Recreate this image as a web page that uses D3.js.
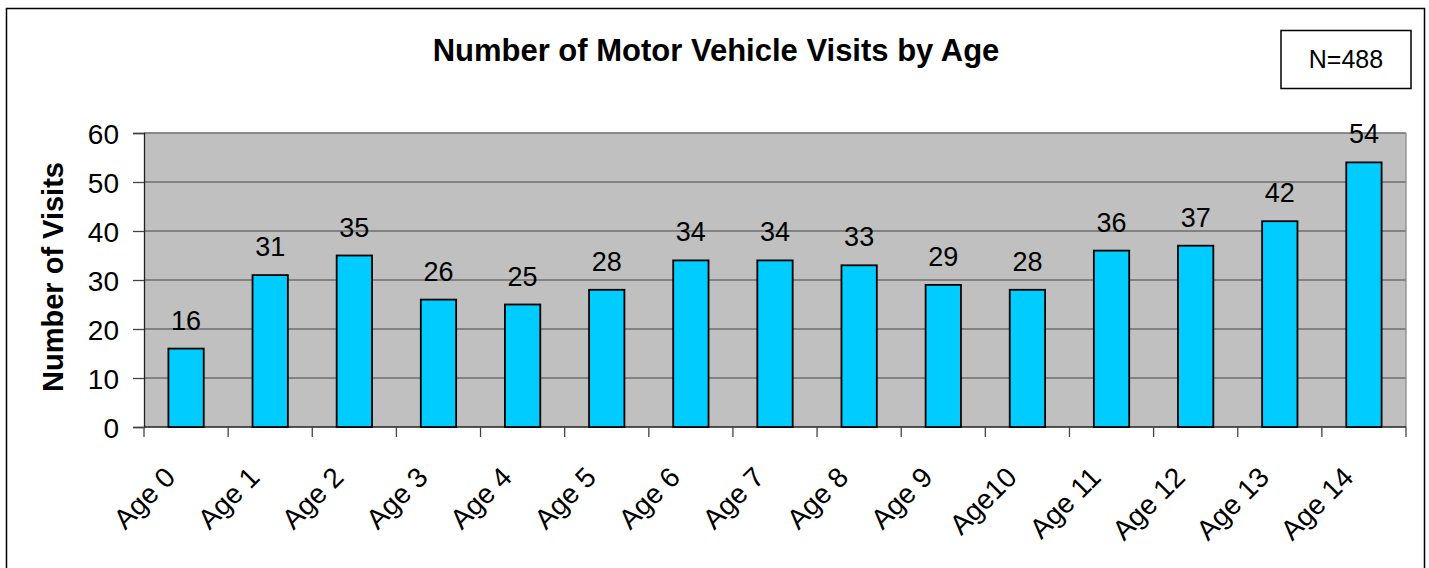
<!DOCTYPE html>
<html lang="en">
<head>
<meta charset="UTF-8">
<title>Number of Motor Vehicle Visits by Age</title>
<style>
  body { margin: 0; background: #fff; font-family: Arial, 'Liberation Sans', sans-serif; }
  svg { display: block; font-family: Arial, 'Liberation Sans', sans-serif; }
  .x-label { font-size: 28px; fill: #000; }
  .value-label { font-size: 27px; fill: #000; text-anchor: middle; }
</style>
</head>
<body>
<div id="chart"></div>
<script src="https://d3js.org/d3.v7.min.js"></script>
<script>
// chart data
const categories = ['Age 0', 'Age 1', 'Age 2', 'Age 3', 'Age 4', 'Age 5', 'Age 6', 'Age 7',
                    'Age 8', 'Age 9', 'Age10', 'Age 11', 'Age 12', 'Age 13', 'Age 14'];
const visits = [16, 31, 35, 26, 25, 28, 34, 34, 33, 29, 28, 36, 37, 42, 54];
const yTicks = [0, 10, 20, 30, 40, 50, 60];

const W = 1429, H = 568;
const plot = { left: 144, right: 1406, top: 133, bottom: 427 };

const svg = d3.select('#chart').append('svg')
    .attr('width', W).attr('height', H);

// outer frame
svg.append('rect')
    .attr('x', 6.5).attr('y', 8.5)
    .attr('width', 1418).attr('height', 600)
    .attr('fill', '#fff').attr('stroke', '#000').attr('stroke-width', 1.5);

// scales
const x = d3.scaleBand()
    .domain(categories)
    .range([plot.left, plot.right])
    .paddingInner(0.58).paddingOuter(0.29);

const xOuter = d3.scaleBand()
    .domain(categories)
    .range([plot.left, plot.right]);

const y = d3.scaleLinear()
    .domain([0, 60])
    .range([plot.bottom, plot.top]);

// plot background
svg.append('rect')
    .attr('x', plot.left).attr('y', plot.top)
    .attr('width', plot.right - plot.left).attr('height', plot.bottom - plot.top)
    .attr('fill', '#c0c0c0');

// gridlines
svg.append('g')
    .selectAll('line')
    .data(yTicks.filter(d => d > 0))
    .join('line')
    .attr('x1', plot.left).attr('x2', plot.right)
    .attr('y1', d => y(d)).attr('y2', d => y(d))
    .attr('stroke', '#6e6e6e').attr('stroke-width', 1.3);

// right border of plot
svg.append('line')
    .attr('x1', plot.right).attr('x2', plot.right)
    .attr('y1', plot.top).attr('y2', plot.bottom)
    .attr('stroke', '#8a8a8a').attr('stroke-width', 1.3);

// y axis
const yAxis = d3.axisLeft(y)
    .tickValues(yTicks)
    .tickSize(11)
    .tickPadding(14);

const gy = svg.append('g')
    .attr('transform', `translate(${plot.left},0)`)
    .call(yAxis);
gy.select('.domain').attr('stroke', '#222').attr('stroke-width', 1.3);
gy.selectAll('.tick line').attr('stroke', '#444').attr('stroke-width', 1.3);
gy.selectAll('.tick text')
    .style('font-family', 'Arial, "Liberation Sans", sans-serif')
    .style('font-size', '28px')
    .attr('dy', '0.36em')
    .attr('fill', '#000');

// x axis (ticks at category boundaries)
const boundaries = categories.map(c => xOuter(c)).concat([plot.right]);
svg.append('line')
    .attr('x1', plot.left).attr('x2', plot.right)
    .attr('y1', plot.bottom).attr('y2', plot.bottom)
    .attr('stroke', '#222').attr('stroke-width', 1.5);
svg.append('g')
    .selectAll('line')
    .data(boundaries)
    .join('line')
    .attr('x1', d => d).attr('x2', d => d)
    .attr('y1', plot.bottom).attr('y2', plot.bottom + 10)
    .attr('stroke', '#444').attr('stroke-width', 1.3);

// x labels, rotated
svg.append('g')
    .selectAll('text')
    .data(categories)
    .join('text')
    .attr('class', 'x-label')
    .attr('text-anchor', 'end')
    .attr('transform', d => {
        const cx = xOuter(d) + xOuter.bandwidth() / 2 - 9;
        return `translate(${cx},${plot.bottom + 52}) rotate(-45)`;
    })
    .text(d => d);

// bars
svg.append('g')
    .selectAll('rect')
    .data(visits)
    .join('rect')
    .attr('x', (d, i) => x(categories[i]))
    .attr('y', d => y(d))
    .attr('width', x.bandwidth())
    .attr('height', d => plot.bottom - y(d))
    .attr('fill', '#00ccff')
    .attr('stroke', '#000')
    .attr('stroke-width', 1.8);

// value labels
svg.append('g')
    .selectAll('text')
    .data(visits)
    .join('text')
    .attr('class', 'value-label')
    .attr('x', (d, i) => x(categories[i]) + x.bandwidth() / 2)
    .attr('y', d => y(d) - 19)
    .text(d => d);

// title
svg.append('text')
    .attr('x', 716).attr('y', 61)
    .attr('text-anchor', 'middle')
    .style('font-size', '31px').style('font-weight', 'bold')
    .text('Number of Motor Vehicle Visits by Age');

// y axis title
svg.append('text')
    .attr('transform', `translate(63,${(plot.top + plot.bottom) / 2 - 3}) rotate(-90)`)
    .attr('text-anchor', 'middle')
    .style('font-size', '29px').style('font-weight', 'bold')
    .text('Number of Visits');

// N box
svg.append('rect')
    .attr('x', 1281).attr('y', 30.5)
    .attr('width', 130).attr('height', 58)
    .attr('fill', '#fff').attr('stroke', '#000').attr('stroke-width', 1.5);
svg.append('text')
    .attr('x', 1346).attr('y', 68)
    .attr('text-anchor', 'middle')
    .style('font-size', '25px')
    .text('N=488');
</script>
</body>
</html>
